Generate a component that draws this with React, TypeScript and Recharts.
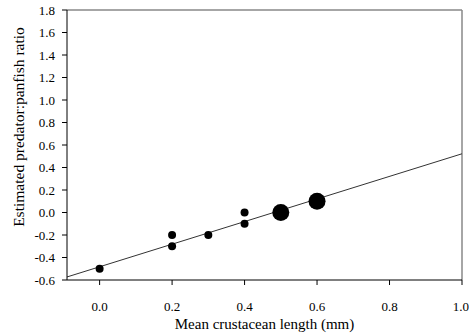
import React from "react";
import {
  ScatterChart, Scatter, XAxis, YAxis, ReferenceLine, Label,
} from "recharts";

const X_TICKS = [0, 0.2, 0.4, 0.6, 0.8, 1.0];
const Y_TICKS = [-0.6, -0.4, -0.2, 0, 0.2, 0.4, 0.6, 0.8, 1.0, 1.2, 1.4, 1.6, 1.8];

const SMALL_POINTS = [
  { x: 0.0, y: -0.5 },
  { x: 0.2, y: -0.2 },
  { x: 0.2, y: -0.3 },
  { x: 0.3, y: -0.2 },
  { x: 0.4, y: 0.0 },
  { x: 0.4, y: -0.1 },
];

const LARGE_POINTS = [
  { x: 0.5, y: 0.0 },
  { x: 0.6, y: 0.1 },
];

// regression line end points
const FIT_LINE = [
  { x: -0.09, y: -0.573 },
  { x: 1.0, y: 0.522 },
];

const FONT = "'Times New Roman', 'Liberation Serif', serif";
const TICK = { fill: "#000", fontSize: 13, fontFamily: FONT };

const dot = (r: number) => (props: any) =>
  <circle cx={props.cx} cy={props.cy} r={r} fill="#000" />;

export default function App() {
  return (
    <div style={{ position: "absolute", left: 0, top: 0, background: "#fff", fontFamily: FONT }}>
      <style>{`.recharts-wrapper text { font-family: 'Times New Roman', 'Liberation Serif', serif !important; }`}</style>
      <ScatterChart width={469} height={335} margin={{ top: 10, right: 7, bottom: 0, left: 0 }}>
        <XAxis
          type="number"
          dataKey="x"
          domain={[-0.09, 1.0]}
          ticks={X_TICKS}
          tickFormatter={(v) => v.toFixed(1)}
          tick={TICK}
          tickSize={5}
          tickMargin={17}
          stroke="#000"
          height={55}
          allowDataOverflow
        >
          <Label value="Mean crustacean length (mm)" position="insideBottom" offset={6}
            style={{ fill: "#000", fontSize: 15, fontFamily: FONT }} />
        </XAxis>
        <YAxis
          type="number"
          dataKey="y"
          domain={[-0.6, 1.8]}
          ticks={Y_TICKS}
          tickFormatter={(v) => v.toFixed(1)}
          tick={TICK}
          tickSize={5}
          tickMargin={7}
          stroke="#000"
          width={67}
          allowDataOverflow
        >
          <Label value="Estimated predator:panfish ratio" angle={-90} position="insideLeft"
            offset={18} dy={-18}
            style={{ fill: "#000", fontSize: 15.5, fontFamily: FONT, textAnchor: "middle" }} />
        </YAxis>
        <ReferenceLine y={1.8} stroke="#888" strokeWidth={1.5} />
        <ReferenceLine x={1.0} stroke="#888" strokeWidth={1.5} />
        <ReferenceLine segment={FIT_LINE} stroke="#333" strokeWidth={1} />
        <Scatter data={SMALL_POINTS} shape={dot(4)} isAnimationActive={false} />
        <Scatter data={LARGE_POINTS} shape={dot(8.5)} isAnimationActive={false} />
      </ScatterChart>
    </div>
  );
}
